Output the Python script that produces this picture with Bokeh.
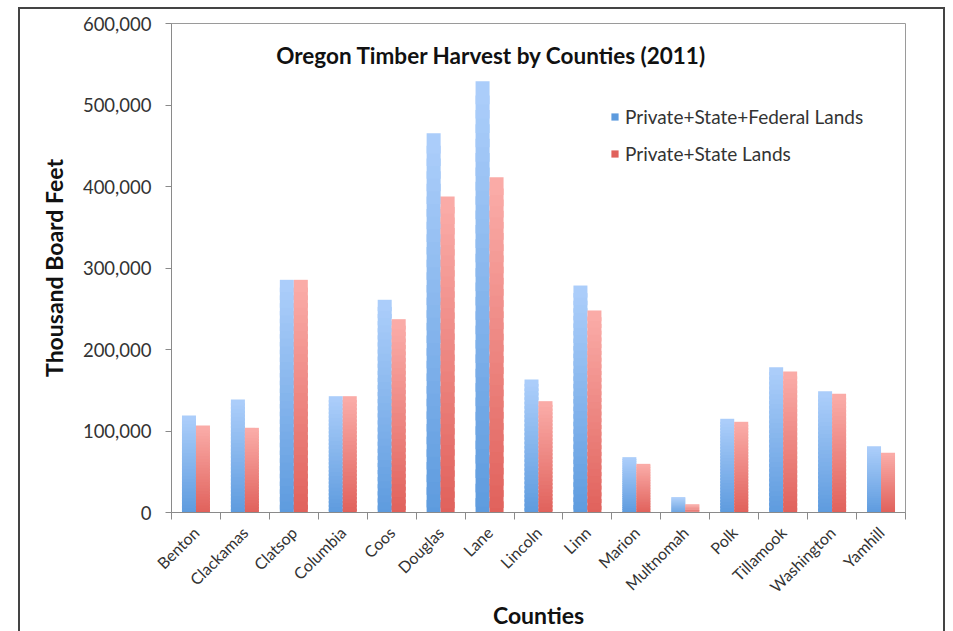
import numpy as np
from bokeh.plotting import figure
from bokeh.models import (ColumnDataSource, Range1d, FixedTicker, NumeralTickFormatter,
                          Legend, LegendItem, Label, InlineStyleSheet)
from bokeh.embed import file_html
from bokeh.resources import INLINE

# Oregon timber harvest by county, 2011 (thousand board feet)
counties = ["Benton", "Clackamas", "Clatsop", "Columbia", "Coos", "Douglas", "Lane",
            "Lincoln", "Linn", "Marion", "Multnomah", "Polk", "Tillamook",
            "Washington", "Yamhill"]
all_lands = [119000, 138600, 285500, 142700, 261000, 465400, 529200,
             163200, 278500, 67900, 18800, 115000, 178300, 148800, 81400]
private_state = [106700, 103900, 285500, 142700, 237200, 387700, 411400,
                 136600, 247900, 59700, 10200, 111300, 173000, 145600, 73200]
series_names = ["Private+State+Federal Lands", "Private+State Lands"]
y_ticks = [0, 100000, 200000, 300000, 400000, 500000, 600000]

FONT = "Lato"
N_SLICES = 30
BAR_W = 0.286


def lerp(c0, c1, t):
    return "#%02x%02x%02x" % tuple(int(round(a + (b - a) * t)) for a, b in zip(c0, c1))


def gradient_source(values, offset, c_bottom, c_top):
    # each bar is split into thin bands, dark at the base and light at the top;
    # every band reaches a little below its neighbour so no seams show
    xs, bottoms, tops, colors = [], [], [], []
    for i, v in enumerate(values):
        for k in range(N_SLICES):
            xs.append(i + offset)
            bottoms.append(max(0.0, v * (k - 0.6) / N_SLICES))
            tops.append(v * (k + 1) / N_SLICES)
            colors.append(lerp(c_bottom, c_top, (k + 0.5) / N_SLICES))
    return ColumnDataSource(dict(x=xs, bottom=bottoms, top=tops, color=colors))


p = figure(width=953, height=631, output_backend="svg", toolbar_location=None,
           x_range=Range1d(-0.5, len(counties) - 0.5), y_range=Range1d(0, 600000),
           min_border_left=171, min_border_right=48, min_border_top=23,
           min_border_bottom=119, background_fill_color="white",
           border_fill_color="white")
p.outline_line_color = "#9a9a9a"
p.outline_line_width = 1
p.xgrid.visible = False
p.ygrid.visible = False

blue_src = gradient_source(all_lands, -BAR_W / 2, (92, 154, 222), (172, 206, 250))
red_src = gradient_source(private_state, BAR_W / 2, (224, 96, 90), (250, 172, 168))

r_blue = p.vbar(x="x", bottom="bottom", top="top", width=BAR_W, source=blue_src,
                fill_color="color", line_color=None)
r_red = p.vbar(x="x", bottom="bottom", top="top", width=BAR_W, source=red_src,
               fill_color="color", line_color=None)

# x axis: county names under each pair, tick marks between pairs
xa = p.xaxis[0]
xa.ticker = FixedTicker(ticks=list(range(len(counties))),
                        minor_ticks=[i - 0.5 for i in range(len(counties) + 1)])
xa.major_label_overrides = {i: name for i, name in enumerate(counties)}
xa.major_label_orientation = np.pi / 4
xa.major_tick_line_color = None
xa.minor_tick_in = 0
xa.minor_tick_out = 7
xa.minor_tick_line_color = "#8a8a8a"
xa.axis_line_color = "#8a8a8a"
xa.major_label_text_font = FONT
xa.major_label_text_font_size = "16px"
xa.major_label_text_color = "#333333"
xa.major_label_standoff = 10
xa.axis_label = "Counties"
xa.axis_label_text_font = FONT
xa.axis_label_text_font_style = "bold"
xa.axis_label_text_font_size = "23px"
xa.axis_label_text_color = "#111111"
xa.axis_label_standoff = -5

ya = p.yaxis[0]
ya.ticker = FixedTicker(ticks=y_ticks)
ya.formatter = NumeralTickFormatter(format="0,0")
ya.major_tick_in = 0
ya.major_tick_out = 6
ya.minor_tick_line_color = None
ya.major_tick_line_color = "#8a8a8a"
ya.axis_line_color = "#8a8a8a"
ya.major_label_text_font = FONT
ya.major_label_text_font_size = "18.5px"
ya.major_label_text_color = "#333333"
ya.major_label_standoff = 14
ya.axis_label = "Thousand Board Feet"
ya.axis_label_text_font = FONT
ya.axis_label_text_font_style = "bold"
ya.axis_label_text_font_size = "23px"
ya.axis_label_text_color = "#111111"
ya.axis_label_standoff = 12

title = Label(x=6.04, y=560700, text="Oregon Timber Harvest by Counties (2011)",
              text_font=FONT, text_font_style="bold", text_font_size="22.5px",
              text_color="#111111", text_align="center", text_baseline="middle")
p.add_layout(title)

legend = Legend(items=[LegendItem(label=series_names[0], renderers=[r_blue], index=0),
                       LegendItem(label=series_names[1], renderers=[r_red], index=0)],
                location=(439, 347), orientation="vertical",
                glyph_width=9, glyph_height=9, label_standoff=6,
                label_height=20, spacing=14, padding=0, margin=0,
                border_line_color=None, background_fill_alpha=0,
                label_text_font=FONT, label_text_font_size="19px",
                label_text_color="#333333")
p.add_layout(legend)

# dark rule framing the whole chart; its lower edge runs past the page bottom
p.stylesheets = [InlineStyleSheet(css="""
:host { position: relative; }
:host::after {
  content: "";
  position: absolute;
  left: 18px; top: 7px; width: 927px; height: 624px;
  border: 2.5px solid #444444; border-bottom: none;
  box-sizing: border-box;
  pointer-events: none;
}
""")]

open("out.html", "w").write(file_html(p, INLINE))
